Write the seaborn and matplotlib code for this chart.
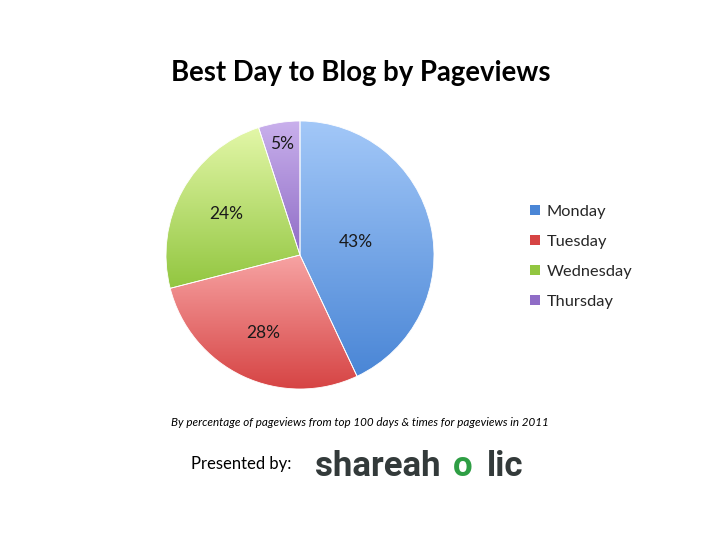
import numpy as np
import matplotlib
matplotlib.use("Agg")
import matplotlib.pyplot as plt
import seaborn as sns
from matplotlib.colors import LinearSegmentedColormap

days = ["Monday", "Tuesday", "Wednesday", "Thursday"]
share = [43, 28, 24, 5]
pct_labels = ["43%", "28%", "24%", "5%"]

# gradient ends per slice (light top -> dark bottom)
tops = ["#a3c8f8", "#f7a3a3", "#e3f7a8", "#c9b0ec"]
bottoms = ["#4a86d6", "#d64444", "#92c640", "#8f6cc6"]
label_dist = [0.43, 0.64, 0.63, 0.84]

sns.set_theme(style="white")
plt.rcParams["font.family"] = ["Lato", "DejaVu Sans"]

fig = plt.figure(figsize=(7.2, 5.4), dpi=100)
ax = fig.add_axes([166 / 720, 151 / 540, 268 / 720, 268 / 540])

wedges, _ = ax.pie(share, startangle=90, counterclock=False,
                   colors=bottoms, wedgeprops=dict(edgecolor="white", linewidth=0.6))
ax.set_aspect("equal")

for w, top, bot in zip(wedges, tops, bottoms):
    cmap = LinearSegmentedColormap.from_list("g", [bot, top])
    bb = w.get_path().get_extents()
    grad = np.linspace(0, 1, 256).reshape(-1, 1)
    im = ax.imshow(grad, cmap=cmap, origin="lower", aspect="auto",
                   extent=[bb.x0, bb.x1, bb.y0, bb.y1], zorder=1)
    im.set_clip_path(w)
    w.set_facecolor("none")
    w.set_zorder(2)

for w, lab, d in zip(wedges, pct_labels, label_dist):
    ang = np.deg2rad((w.theta1 + w.theta2) / 2)
    ax.text(d * np.cos(ang), d * np.sin(ang), lab, ha="center", va="center",
            fontsize=12.5, color="#1a1a1a", zorder=3)

ax.set_xlim(-1, 1)
ax.set_ylim(-1, 1)
ax.axis("off")

leg = fig.legend(wedges, days, loc="upper left", bbox_to_anchor=(515 / 720, 1 - 190 / 540),
                 frameon=False, fontsize=11.8, handlelength=0.6, handleheight=0.6,
                 labelspacing=0.98, handletextpad=0.45)
for h, c in zip(leg.legend_handles, bottoms):
    h.set_facecolor(c)
    h.set_edgecolor("none")

fig.text(361 / 720, 1 - 73 / 540, "Best Day to Blog by Pageviews", ha="center", va="center",
         fontsize=19.8, fontweight="bold", color="black")
fig.text(360 / 720, 1 - 422 / 540,
         "By percentage of pageviews from top 100 days & times for pageviews in 2011",
         ha="center", va="center", fontsize=8.4, style="italic", color="black")
fig.text(241 / 720, 1 - 464 / 540, "Presented by:", ha="center", va="center",
         fontsize=12, color="black")

# logo text
logo_kw = dict(va="baseline", fontsize=25, fontweight="bold", color="#333a3a",
               family=["Roboto", "DejaVu Sans"])
fig.text(441 / 720, 1 - 476 / 540, "shareah", ha="right", **logo_kw)
logo_kw["color"] = "#2e9e44"
fig.text(463 / 720, 1 - 476 / 540, "o", ha="center", **logo_kw)
logo_kw["color"] = "#333a3a"
fig.text(487 / 720, 1 - 476 / 540, "lic", ha="left", **logo_kw)

fig.savefig("out.png", dpi=100, facecolor="white")
